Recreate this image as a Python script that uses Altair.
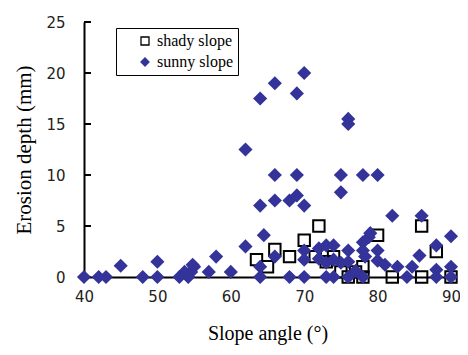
import altair as alt
import pandas as pd

shady_x = [63.5, 65, 66, 68, 70, 72, 71.5, 73, 74, 75, 76, 77, 78, 78, 80, 82, 86, 86, 88, 90]
shady_y = [1.7, 1.0, 2.7, 2.0, 3.6, 5.0, 2.0, 1.5, 2.0, 0.5, 0, 0.5, 0, 1.0, 4.1, 0, 5.0, 0, 2.5, 0]

sunny_x = [40, 42, 43, 45, 48, 50, 50, 53, 53.7, 54.2, 54.6, 55, 54.8, 57, 58, 60, 62, 62,
           64, 64, 64, 64, 64.5, 66, 66, 66, 66, 68, 69, 69, 69, 70, 70, 68, 70, 70, 70,
           72, 73, 74, 72, 73, 74, 73, 74, 75, 75, 75, 76, 76, 76, 76, 76, 78, 80, 78, 78,
           78.8, 79, 78.3, 80, 80, 81, 82, 82.7, 84, 84.7, 86, 85.7, 88, 88, 88, 90, 90, 90,
           78, 77]
sunny_y = [0, 0, 0, 1.1, 0, 0, 1.5, 0, 0.5, 0, 0.5, 1.0, 1.2, 0.5, 2.0, 0.5, 3.0, 12.5,
           7.0, 17.5, 1.0, 0, 4.1, 19, 10, 7.5, 2.0, 7.5, 18, 8, 10, 20, 7, 0, 0, 2.6, 1.7,
           2.8, 3.1, 3.1, 1.8, 1.4, 1.7, 0, 0, 1.4, 10, 8.3, 15.5, 15.0, 2.6, 1.5, 0, 10, 10, 3.4, 2.6,
           3.9, 4.3, 2.0, 2.6, 1.6, 1.2, 6, 1.0, 0, 1.0, 6, 2.1, 3.1, 0.7, 0, 4, 1.0, 0,
           0, 0.6]

series = ["shady slope", "sunny slope"]

df = pd.concat([
    pd.DataFrame({"x": shady_x, "y": shady_y, "s": series[0]}),
    pd.DataFrame({"x": sunny_x, "y": sunny_y, "s": series[1]}),
], ignore_index=True)

y_ticks = [0, 5, 10, 15, 20, 25]
x_ticks = [40, 50, 60, 70, 80, 90]

serif = "Liberation Serif"
sans = "DejaVu Sans"

xscale = alt.Scale(domain=[40, 90], nice=False, zero=False)
yscale = alt.Scale(domain=[0, 25], nice=False)

nbsp = "\u00a0" * 4
leg = alt.Legend(title=None, orient="none", legendX=32, legendY=6,
                 strokeColor="black", padding=5, fillColor="white",
                 labelFont=serif, labelFontSize=16, labelColor="black",
                 symbolSize=64, rowPadding=5, labelOffset=4, symbolOffset=16,
                 symbolStrokeWidth=1.3, labelExpr="datum.label + '" + nbsp + "'")

xenc = alt.X("x:Q", scale=xscale, axis=alt.Axis(
    values=x_ticks, title="Slope angle (°)", grid=False, domainColor="black",
    domainWidth=2, ticks=False, labelFont=sans, labelFontSize=15, labelFlush=False,
    labelColor="#222", labelPadding=12, titleFont=serif, titleFontSize=20,
    titleFontWeight="normal", titleColor="black", titlePadding=19))
yenc = alt.Y("y:Q", scale=yscale, axis=alt.Axis(
    values=y_ticks, title="Erosion depth (mm)", grid=False, domainColor="black",
    domainWidth=2, ticks=False, labelFont=sans, labelFontSize=15,
    labelColor="#222", labelPadding=19, titleFont=serif, titleFontSize=21,
    titleFontWeight="normal", titleColor="black", titlePadding=11))
shape = alt.Shape("s:N", scale=alt.Scale(domain=series, range=["square", "diamond"]), legend=leg)
fill = alt.Fill("s:N", scale=alt.Scale(domain=series, range=["transparent", "#333399"]), legend=leg)
stroke = alt.Stroke("s:N", scale=alt.Scale(domain=series, range=["black", "#333399"]), legend=leg)

base = alt.Chart(df).encode(x=xenc, y=yenc, shape=shape, fill=fill, stroke=stroke)

shady = base.transform_filter(alt.datum.s == series[0]).mark_point(
    opacity=1, size=130, strokeWidth=2)
sunny = base.transform_filter(alt.datum.s == series[1]).mark_point(
    opacity=1, size=200, strokeWidth=0)

ytick_df = pd.DataFrame({"t": y_ticks})
yticks = alt.Chart(ytick_df).mark_rule(color="black", strokeWidth=2).encode(
    y=alt.Y("t:Q", scale=yscale),
    x=alt.value(0), x2=alt.value(7),
)

chart = alt.layer(yticks, shady, sunny).properties(
    width=367, height=255,
    autosize=alt.AutoSizeParams(type="none"),
    padding={"left": 76, "top": 14, "right": 9, "bottom": 70},
).configure_view(stroke=None)

chart.save("out.html", embed_options={"renderer": "svg", "actions": False})
